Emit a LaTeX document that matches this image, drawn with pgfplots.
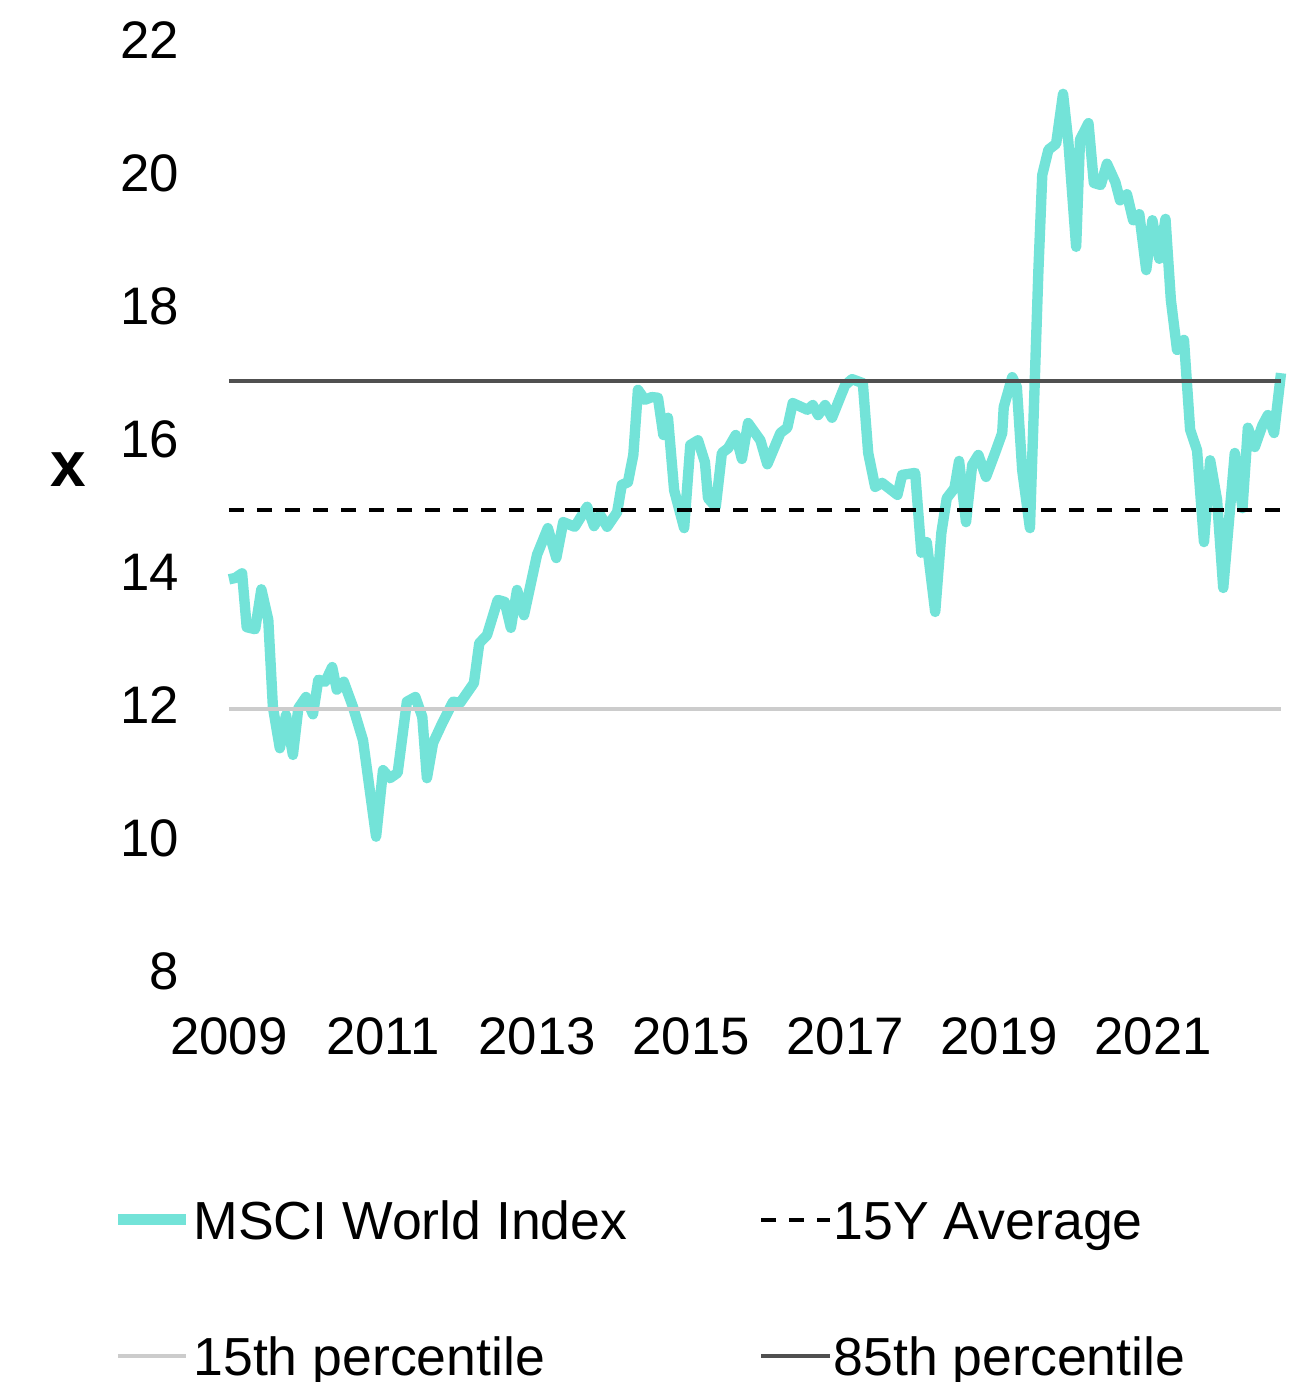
\documentclass[border=0pt]{standalone}
\usepackage{fontspec}
\setmainfont{Liberation Sans}
\usepackage{pgfplots}
\usepackage{pgfplotstable}
\pgfplotsset{compat=1.18}
\definecolor{tealline}{RGB}{115,227,216}
\definecolor{dgray}{RGB}{80,80,80}
\definecolor{lgray}{RGB}{204,204,204}
\pgfplotstableread{
year val
2009.00 13.89
2009.08 13.91
2009.17 13.98
2009.23 13.17
2009.34 13.14
2009.42 13.74
2009.51 13.28
2009.57 11.97
2009.66 11.35
2009.74 11.85
2009.83 11.25
2009.90 11.95
2010.00 12.12
2010.09 11.86
2010.16 12.38
2010.25 12.35
2010.34 12.57
2010.40 12.23
2010.49 12.35
2010.61 11.97
2010.74 11.47
2010.91 10.02
2011.00 11.02
2011.09 10.90
2011.19 10.98
2011.31 12.05
2011.42 12.12
2011.51 11.82
2011.57 10.90
2011.65 11.43
2011.77 11.73
2011.91 12.05
2012.00 12.03
2012.18 12.33
2012.25 12.93
2012.35 13.05
2012.49 13.58
2012.58 13.55
2012.66 13.16
2012.74 13.73
2012.83 13.35
2013.00 14.26
2013.14 14.66
2013.25 14.21
2013.34 14.75
2013.49 14.68
2013.65 14.98
2013.74 14.69
2013.82 14.86
2013.91 14.68
2014.04 14.90
2014.10 15.31
2014.18 15.35
2014.25 15.76
2014.31 16.74
2014.40 16.59
2014.49 16.63
2014.57 16.62
2014.64 16.06
2014.70 16.32
2014.78 15.23
2014.91 14.66
2014.99 15.91
2015.09 15.98
2015.18 15.65
2015.22 15.11
2015.32 14.98
2015.40 15.79
2015.48 15.86
2015.58 16.06
2015.66 15.70
2015.74 16.24
2015.90 15.98
2015.99 15.62
2016.16 16.09
2016.25 16.17
2016.32 16.54
2016.51 16.44
2016.58 16.51
2016.65 16.36
2016.74 16.51
2016.83 16.32
2017.00 16.81
2017.09 16.90
2017.23 16.84
2017.30 15.79
2017.39 15.28
2017.48 15.34
2017.68 15.16
2017.74 15.46
2017.91 15.49
2017.99 14.29
2018.06 14.45
2018.17 13.40
2018.25 14.59
2018.32 15.11
2018.42 15.26
2018.48 15.67
2018.57 14.75
2018.65 15.61
2018.73 15.76
2018.83 15.43
2018.95 15.80
2019.04 16.09
2019.06 16.48
2019.17 16.93
2019.23 16.78
2019.30 15.53
2019.40 14.66
2019.51 18.54
2019.56 19.97
2019.64 20.35
2019.74 20.44
2019.83 21.19
2019.90 20.45
2020.00 18.89
2020.05 20.50
2020.16 20.75
2020.23 19.85
2020.32 19.82
2020.40 20.14
2020.51 19.86
2020.57 19.59
2020.66 19.68
2020.74 19.29
2020.82 19.38
2020.91 18.54
2020.99 19.29
2021.08 18.71
2021.16 19.31
2021.23 18.09
2021.31 17.34
2021.40 17.49
2021.48 16.14
2021.57 15.83
2021.66 14.45
2021.74 15.68
2021.83 15.08
2021.91 13.76
2022.06 15.79
2022.16 14.96
2022.23 16.17
2022.32 15.88
2022.42 16.21
2022.49 16.36
2022.57 16.09
2022.66 16.99
}\msci
\begin{document}
\begin{tikzpicture}
\begin{axis}[
  at={(0,0)}, anchor=south west,
  width=263pt, height=232.75pt, scale only axis,
  xmin=2009, xmax=2022.66, ymin=8, ymax=22,
  xtick={2009,2011,2013,2015,2017,2019,2021},
  ytick={8,10,12,14,16,18,20,22},
  axis line style={draw=none},
  major tick length=0pt,
  clip=false,
  /pgf/number format/assume math mode=true,
  x tick label style={/pgf/number format/1000 sep=},
  xticklabel style={anchor=center, yshift=-16.25pt, font=\fontsize{13.2}{15.8}\selectfont},
  yticklabel style={anchor=east, inner xsep=0pt, xshift=-12.25pt, font=\fontsize{13.2}{15.8}\selectfont},
  ylabel={\textbf{x}},
  every axis y label/.style={at={(axis description cs:0,0)}, anchor=center, xshift=-40.25pt, yshift=125.25pt, font=\fontsize{16}{19}\selectfont},
  legend columns=2,
  legend cell align=left,
  legend style={at={(axis description cs:0,0)}, anchor=north west, xshift=-29.25pt, yshift=-53.6pt,
    draw=none, fill=none, inner sep=0pt, font=\fontsize{13.4}{16}\selectfont, row sep=17.4pt,
    /tikz/every odd column/.append style={column sep=-1.5pt}},
]
\addplot[tealline, line width=2.6pt, line join=round] table[x=year, y=val] {\msci};
\addlegendentry{\makebox[139.5pt][l]{\strut MSCI World Index}}
\addplot[black, line width=1pt, dash pattern=on 3.75pt off 3.25pt] coordinates {(2009,14.93) (2022.66,14.93)};
\addlegendentry{\strut 15Y Average}
\addplot[lgray, line width=1pt] coordinates {(2009,11.94) (2022.66,11.94)};
\addlegendentry{\makebox[139.5pt][l]{\strut 15th percentile}}
\addplot[dgray, line width=1pt] coordinates {(2009,16.87) (2022.66,16.87)};
\addlegendentry{\strut 85th percentile}
\end{axis}
\pgfresetboundingbox
\path (-57.25pt,-102.75pt) rectangle (268.5pt,242.75pt);
\end{tikzpicture}
\end{document}
